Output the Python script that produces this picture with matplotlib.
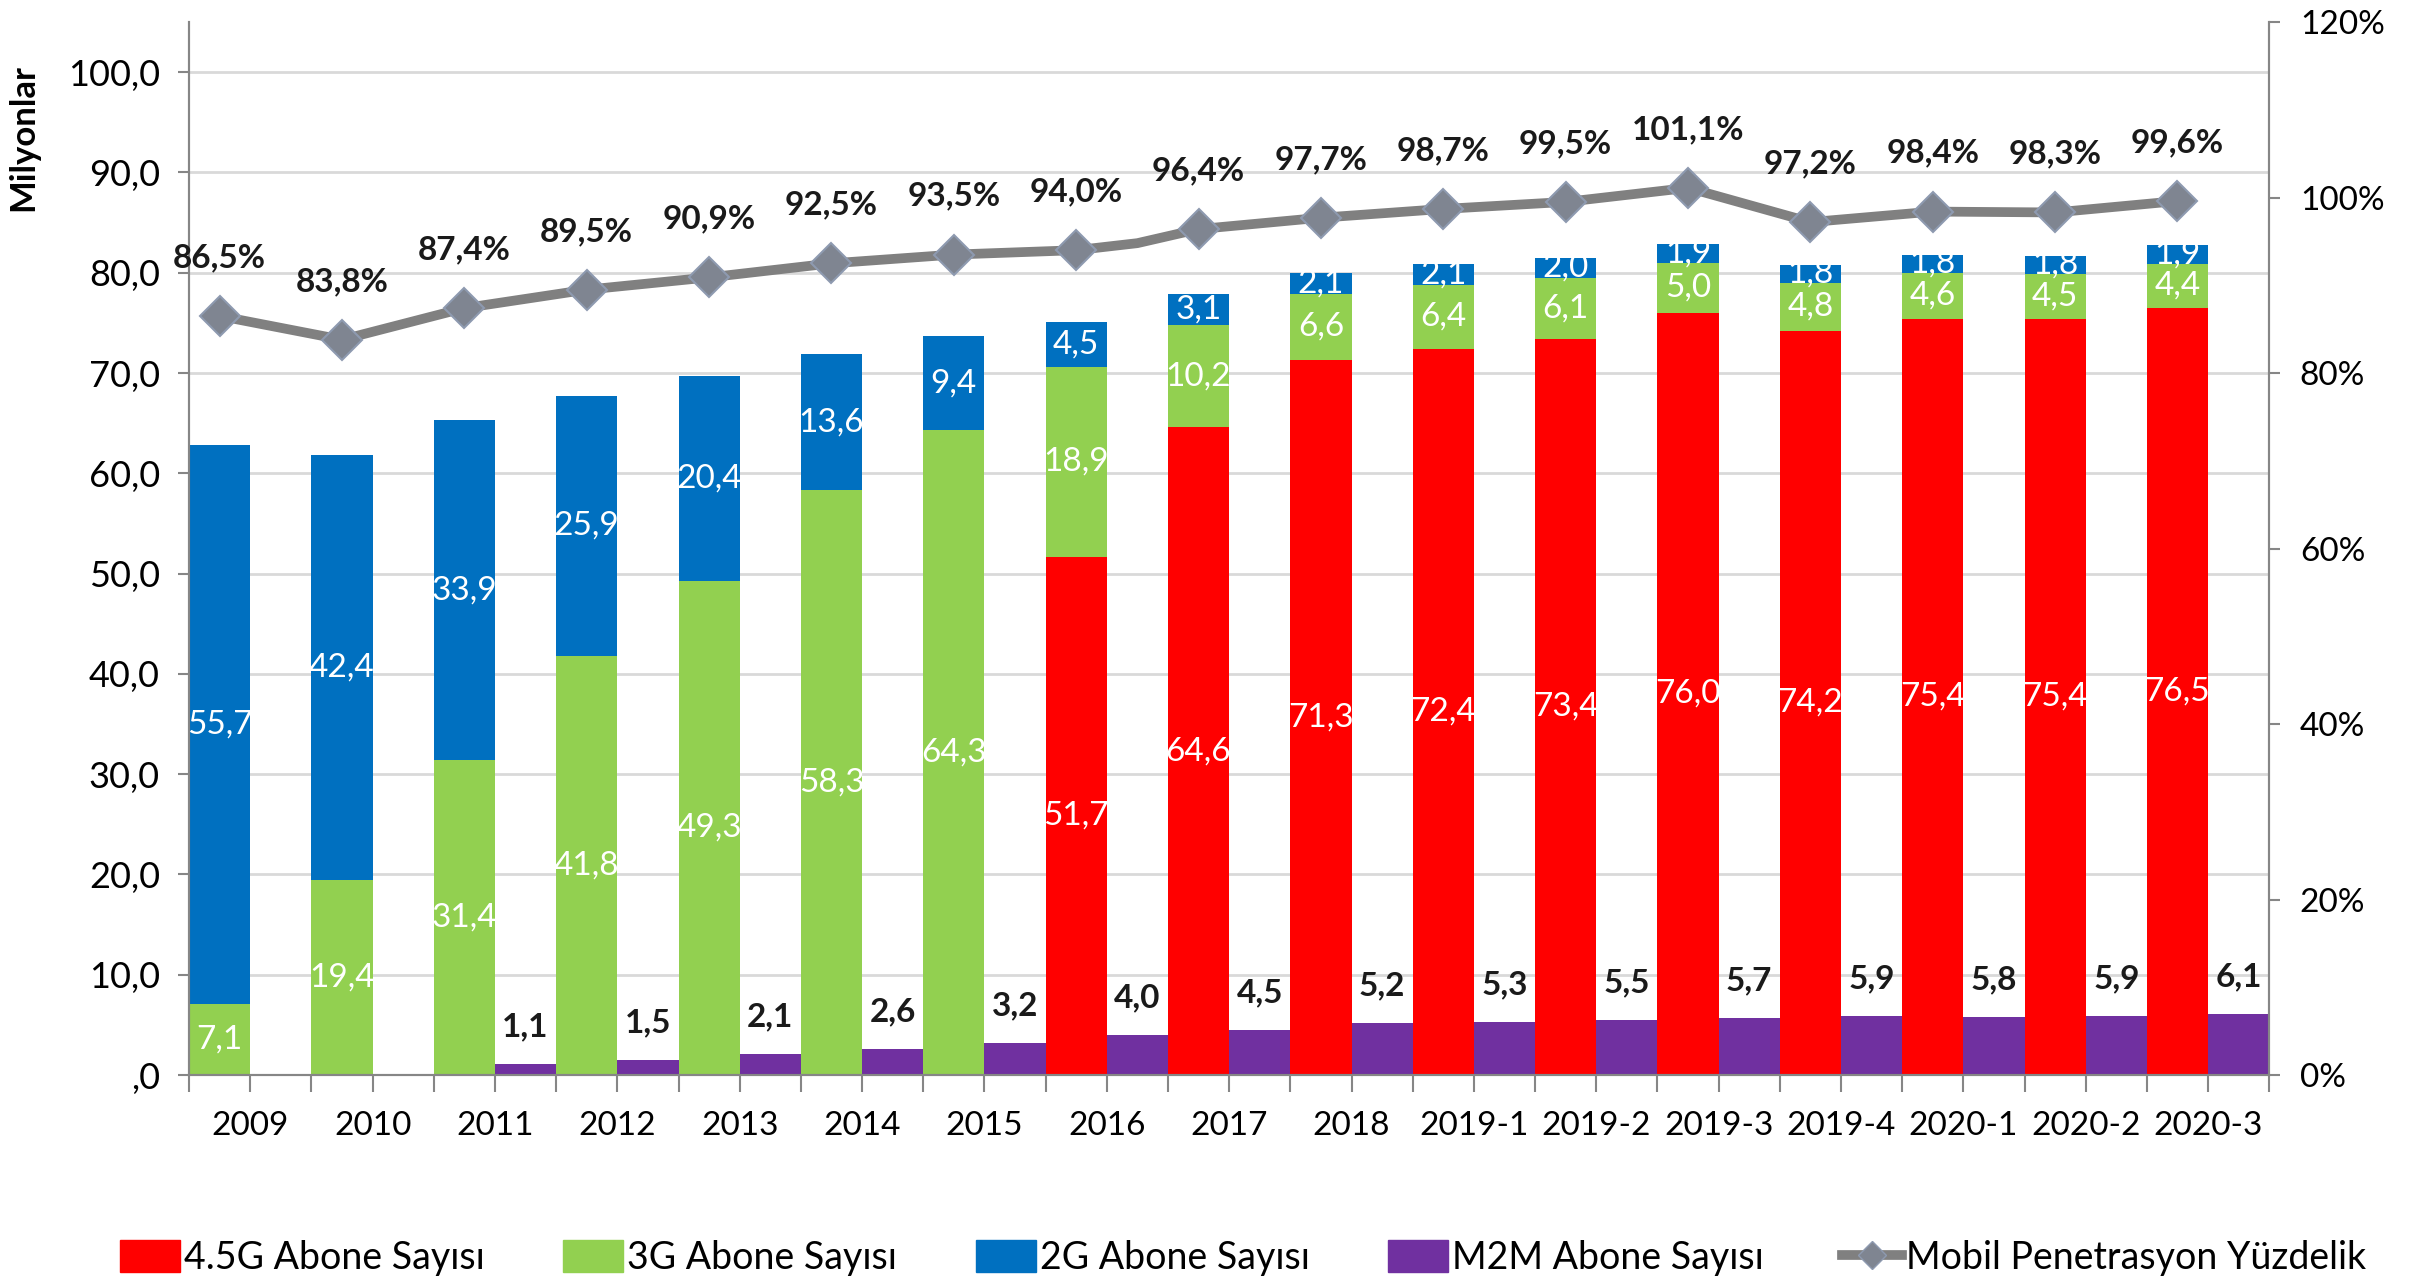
import numpy as np
import matplotlib.pyplot as plt
from matplotlib.lines import Line2D
from matplotlib.patches import Patch

plt.rcParams['font.family'] = ['Lato', 'DejaVu Sans']

# Data (millions of subscribers, penetration in %)
categories = ["2009", "2010", "2011", "2012", "2013", "2014", "2015", "2016", "2017", "2018",
              "2019-1", "2019-2", "2019-3", "2019-4", "2020-1", "2020-2", "2020-3"]
g45 = [0, 0, 0, 0, 0, 0, 0, 51.7, 64.6, 71.3, 72.4, 73.4, 76.0, 74.2, 75.4, 75.4, 76.5]
g3 = [7.1, 19.4, 31.4, 41.8, 49.3, 58.3, 64.3, 18.9, 10.2, 6.6, 6.4, 6.1, 5.0, 4.8, 4.6, 4.5, 4.4]
g2 = [55.7, 42.4, 33.9, 25.9, 20.4, 13.6, 9.4, 4.5, 3.1, 2.1, 2.1, 2.0, 1.9, 1.8, 1.8, 1.8, 1.9]
m2m = [0, 0, 1.1, 1.5, 2.1, 2.6, 3.2, 4.0, 4.5, 5.2, 5.3, 5.5, 5.7, 5.9, 5.8, 5.9, 6.1]
penetration = [86.5, 83.8, 87.4, 89.5, 90.9, 92.5, 93.5, 94.0, 96.4, 97.7, 98.7, 99.5, 101.1,
               97.2, 98.4, 98.3, 99.6]
pen_bend_2016 = 94.8  # extra unlabeled point of the line after 2016

C_45, C_3, C_2, C_M2M = '#FF0000', '#92D050', '#0070C0', '#7030A0'
C_LINE, C_MARK = '#808080', '#7F8591'
FS = 24


def tr(v):
    return f"{v:.1f}".replace('.', ',')


fig = plt.figure(figsize=(24.33, 12.81), dpi=100)
ax = fig.add_axes([0.0777, 0.1608, 0.855, 0.822])
ax2 = ax.twinx()

x = np.arange(len(categories))
w = 0.5
xs = x - 0.25
xm = x + 0.25

g45 = np.array(g45)
g3 = np.array(g3)
g2 = np.array(g2)

ax.bar(xs, g45, w, color=C_45, zorder=2)
ax.bar(xs, g3, w, bottom=g45, color=C_3, zorder=2)
ax.bar(xs, g2, w, bottom=g45 + g3, color=C_2, zorder=2)
ax.bar(xm, m2m, w, color=C_M2M, zorder=2)

# labels inside stacked bars
for i in range(len(categories)):
    base = 0
    for vals in (g45, g3, g2):
        v = vals[i]
        if v > 0:
            ax.text(xs[i], base + v / 2, tr(v), ha='center', va='center',
                    color='white', fontsize=FS, zorder=3)
        base += v
    if m2m[i] > 0:
        ax.annotate(tr(m2m[i]), (xm[i], m2m[i]), xytext=(0, 27), textcoords='offset points',
                    ha='center', va='center', fontsize=FS, fontweight='bold', color='#1a1a1a')

# penetration line
line_x = np.insert(xs, 8, xm[7])
line_y = np.insert(np.array(penetration), 8, pen_bend_2016) / 100
ax2.plot(line_x, line_y, color=C_LINE, lw=7, zorder=4, solid_joinstyle='round')
ax2.plot(xs, np.array(penetration) / 100, ls='none', marker='D', ms=20,
         mfc=C_MARK, mec='#8E9AB0', mew=1.5, zorder=5)
for i, p in enumerate(penetration):
    ax2.annotate(f"{tr(p)}%", (xs[i], p / 100), xytext=(0, 42), textcoords='offset points',
                 ha='center', va='center', fontsize=FS, fontweight='bold', color='#1a1a1a')

# axes styling
ax.set_xlim(-0.5, len(categories) - 0.5)
ax.set_ylim(0, 105)
ax2.set_ylim(0, 1.2)

yt = np.arange(0, 101, 10)
ax.set_yticks(yt)
ax.set_yticklabels([tr(v).lstrip('0') if v == 0 else tr(v) for v in yt], fontsize=FS + 2)
ax.yaxis.grid(True, color='#D9D9D9', lw=2, zorder=0)
ax.set_axisbelow(True)

rt = np.arange(0, 1.21, 0.2)
ax2.set_yticks(rt)
ax2.set_yticklabels([f"{v * 100:.0f}%" for v in rt], fontsize=FS)

ax.set_xticks(x)
ax.set_xticklabels(categories, fontsize=FS)
ax.set_xticks(np.concatenate([x - 0.5, [x[-1] + 0.5]]), minor=True)
ax.tick_params(axis='x', which='both', length=12, width=1.5, color='#868686', pad=14)
ax.tick_params(axis='y', length=8, width=1.5, color='#868686', pad=13)
ax2.tick_params(axis='y', length=8, width=1.5, color='#868686', pad=14)

for a in (ax, ax2):
    a.spines['top'].set_visible(False)
    for s in ('left', 'right', 'bottom'):
        a.spines[s].set_color('#868686')
        a.spines[s].set_linewidth(1.5)

fig.text(0.0095, 0.893, 'Milyonlar', rotation=90, ha='center', va='center',
         fontsize=FS + 1, fontweight='bold')

handles = [Patch(color=C_45), Patch(color=C_3), Patch(color=C_2), Patch(color=C_M2M),
           Line2D([], [], color=C_LINE, lw=7, marker='D', ms=14, mfc=C_MARK, mec='#8E9AB0')]
labels = ["4.5G Abone Sayısı", "3G Abone Sayısı", "2G Abone Sayısı", "M2M Abone Sayısı",
          "Mobil Penetrasyon Yüzdelik"]
fig.legend(handles, labels, loc='center', bbox_to_anchor=(0.511, 0.018), ncol=5, frameon=False,
           fontsize=27, columnspacing=2.1, handlelength=1.6, handleheight=0.9,
           handletextpad=0.1)

fig.savefig('out.png', dpi=100)
